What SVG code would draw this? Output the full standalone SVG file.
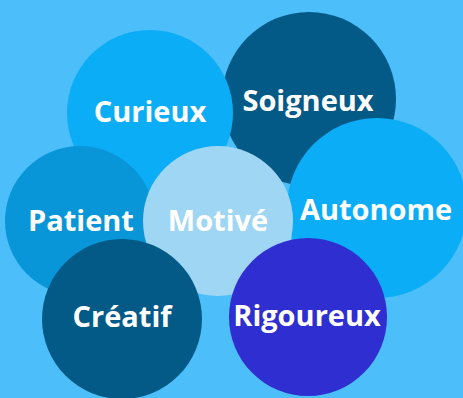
<svg xmlns="http://www.w3.org/2000/svg" width="463" height="398" viewBox="0 0 463 398">
<style>
text{font-family:"Open Sans","Noto Sans","Liberation Sans",sans-serif;font-weight:700;font-size:29px;fill:#fff;text-anchor:middle}
</style>
<rect width="463" height="398" fill="#4CBFFA"/>
<g id="soigneux"><circle cx="309" cy="99" r="87" fill="#035A87"/><text x="308" y="111">Soigneux</text></g>
<g id="curieux"><circle cx="150" cy="113" r="83" fill="#0BADF6"/><text x="150" y="122">Curieux</text></g>
<g id="autonome"><circle cx="377" cy="208" r="90" fill="#0BADF6"/><text x="376" y="220">Autonome</text></g>
<g id="patient"><circle cx="80" cy="221" r="75" fill="#0896D9"/><text x="81" y="231">Patient</text></g>
<g id="motive"><circle cx="218" cy="221" r="75" fill="#9FD6F3"/><text x="218" y="231">Motivé</text></g>
<g id="creatif"><circle cx="122" cy="319" r="80" fill="#035A87"/><text x="122" y="327">Créatif</text></g>
<g id="rigoureux"><circle cx="308" cy="317" r="79" fill="#2E2ED1"/><text x="307" y="326">Rigoureux</text></g>
<g id="connectors"/>
</svg>
